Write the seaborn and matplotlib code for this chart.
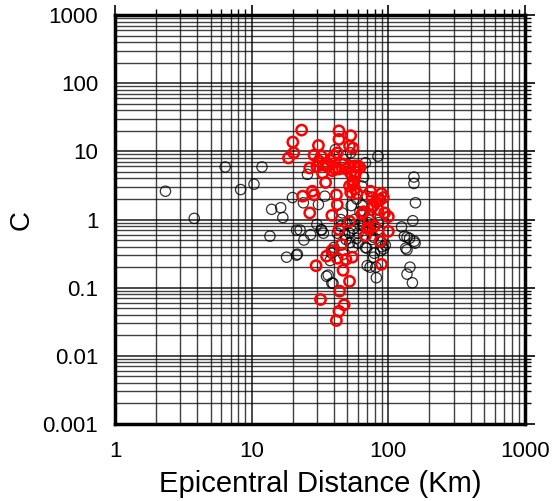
import numpy as np
import pandas as pd
import seaborn as sns
import matplotlib
matplotlib.use("Agg")
import matplotlib.pyplot as plt
from matplotlib.ticker import LogLocator, FixedLocator, NullFormatter

# black circles: (distance km, C)
black_dist = [2.34, 3.8, 6.4, 8.3, 10.4, 11.9, 14.0, 16.3, 16.9, 13.6, 18.0, 19.9,
              21.3, 21.3, 22.6, 24.1, 21.6, 23.9, 25.6, 30.8, 32.3, 32.5, 33.5, 34.3,
              34.6, 35.3, 36.3, 38.6, 39.4, 37.5, 38.6, 40.0, 42.3, 44.9, 46.0, 46.8,
              49.0, 50.0, 52.0, 52.3, 53.5, 55.0, 55.6, 56.6, 58.6, 58.6, 60.0, 62.0,
              64.0, 64.0, 64.0, 66.0, 68.0, 69.4, 70.0, 70.0, 72.0, 73.5, 74.0, 76.0,
              78.0, 79.0, 81.0, 81.7, 84.0, 84.0, 87.0, 89.0, 92.0, 94.0, 68.0, 66.0,
              57.0, 53.0, 49.0, 41.0, 125.0, 131.0, 134.0, 137.0, 137.0, 137.0, 143.0,
              144.0, 150.0, 151.0, 154.0, 154.0, 157.0, 158.0, 155.0, 30.0, 27.0, 45.0,
              60.0, 75.0, 85.0, 90.0, 62.0, 48.0, 71.0, 78.0, 88.0, 95.0]
black_c = [2.6, 1.04, 5.9, 2.75, 3.3, 5.9, 1.41, 1.49, 1.07, 0.57, 0.28, 2.1,
           0.3, 0.7, 0.7, 0.5, 0.31, 1.76, 4.6, 1.66, 0.71, 0.7, 0.63, 2.2,
           3.46, 0.147, 0.153, 0.117, 0.116, 0.25, 0.32, 0.39, 0.63, 1.0, 1.25, 0.31,
           0.51, 0.87, 0.63, 0.46, 1.6, 0.39, 0.74, 1.0, 2.0, 0.53, 0.63, 0.83,
           3.1, 1.6, 0.96, 0.8, 0.39, 0.38, 2.2, 0.21, 1.1, 0.2, 0.71, 0.51,
           0.28, 0.32, 0.2, 0.14, 8.5, 0.71, 2.0, 0.47, 0.37, 1.25, 6.8, 4.2,
           6.1, 9.5, 8.7, 10.6, 0.78, 0.57, 0.38, 0.55, 0.158, 0.36, 0.53,
           0.2, 0.118, 0.96, 4.2, 3.38, 0.45, 1.76, 0.48, 0.85, 0.6, 0.8,
           0.45, 1.4, 0.9, 0.4, 1.3, 0.6, 0.9, 0.55, 0.35, 0.42]

# red circles
red_dist = [23.2, 20.0, 20.3, 18.6, 30.8, 28.6, 26.6, 31.0, 32.3, 33.0, 34.8, 35.3,
            37.5, 40.0, 42.3, 43.5, 43.5, 41.0, 43.5, 49.0, 53.0, 52.0, 55.0, 52.0,
            57.0, 60.0, 53.0, 57.0, 52.0, 57.0, 53.0, 59.0, 27.8, 28.6, 23.6, 26.6,
            41.7, 42.3, 38.6, 43.5, 52.0, 45.5, 38.6, 35.3, 42.3, 49.0, 54.5, 46.6,
            52.0, 29.6, 31.9, 44.0, 47.5, 43.5, 41.7, 66.0, 64.0, 70.0, 68.0, 74.0,
            76.0, 81.0, 84.0, 89.0, 92.0, 94.0, 100.0, 100.0, 87.0, 89.0, 79.0, 72.0,
            72.0, 36.0, 39.0, 47.0, 56.0, 62.0, 78.0, 86.0, 33.5, 30.0, 55.0, 58.0]
red_c = [20.5, 13.7, 9.5, 8.0, 12.2, 8.8, 5.7, 7.2, 8.5, 4.8, 3.5, 6.6,
         7.4, 8.6, 9.5, 20.0, 15.0, 5.5, 5.5, 5.5, 17.0, 12.0, 11.2, 6.1,
         6.1, 6.1, 4.8, 4.3, 3.1, 2.8, 2.5, 2.4, 2.6, 2.3, 2.2, 1.25,
         2.3, 1.65, 1.15, 0.71, 0.94, 0.43, 0.35, 0.29, 0.27, 0.26, 0.28, 0.18,
         0.124, 0.21, 0.067, 0.089, 0.056, 0.045, 0.033, 1.3, 1.2, 0.75, 0.58, 2.6,
         2.1, 1.8, 1.4, 2.4, 2.1, 1.25, 1.1, 0.67, 0.48, 0.22, 0.8, 1.0,
         0.72, 6.0, 5.2, 6.5, 3.6, 5.8, 1.6, 1.9, 6.3, 6.0, 3.3, 5.0]

tick_vals_x = [1, 10, 100, 1000]
tick_labels_x = ["1", "10", "100", "1000"]
tick_vals_y = [0.001, 0.01, 0.1, 1, 10, 100, 1000]
tick_labels_y = ["0.001", "0.01", "0.1", "1", "10", "100", "1000"]

sns.set_style("white")
plt.rcParams['font.family'] = ['Liberation Sans', 'DejaVu Sans']
plt.rcParams['text.color'] = 'black'
plt.rcParams['axes.labelcolor'] = 'black'
plt.rcParams['xtick.color'] = 'black'
plt.rcParams['ytick.color'] = 'black'

black_df = pd.DataFrame({"dist": black_dist, "c": black_c})
red_df = pd.DataFrame({"dist": red_dist, "c": red_c})

fig = plt.figure(figsize=(5.57, 5.01), dpi=100)
ax = fig.add_axes([0.2065, 0.1537, 0.736, 0.8163])
ax.set_xscale("log")
ax.set_yscale("log")

sns.scatterplot(data=black_df, x="dist", y="c", ax=ax, marker="o", s=55,
                facecolor="none", edgecolor="black", linewidth=0.9, alpha=0.8,
                zorder=3)
sns.scatterplot(data=red_df, x="dist", y="c", ax=ax, marker="o", s=55,
                facecolor="none", edgecolor="red", linewidth=1.8, zorder=4)

ax.set_xlim(1, 1000)
ax.set_ylim(0.001, 1000)

ax.xaxis.set_major_locator(FixedLocator(tick_vals_x))
ax.set_xticklabels(tick_labels_x)
ax.yaxis.set_major_locator(FixedLocator(tick_vals_y))
ax.set_yticklabels(tick_labels_y)
for axis in (ax.xaxis, ax.yaxis):
    axis.set_minor_locator(LogLocator(base=10, subs=np.arange(2, 10), numticks=30))
    axis.set_minor_formatter(NullFormatter())

ax.grid(True, which="major", color="black", lw=1.1, alpha=0.9)
ax.grid(True, which="minor", color="black", lw=1.0, alpha=0.75)
ax.set_axisbelow(True)

ax.tick_params(which="major", direction="out", length=7, width=1.2,
               top=True, right=True, labelsize=16, pad=5)
ax.tick_params(which="minor", direction="out", length=4, width=1.0,
               top=True, right=True)
for sp in ax.spines.values():
    sp.set_linewidth(2.5)
    sp.set_color("black")

ax.set_xlabel("Epicentral Distance (Km)", fontsize=21, labelpad=6)
ax.set_ylabel("C", fontsize=20, labelpad=6)

fig.savefig("out.png", dpi=100)
